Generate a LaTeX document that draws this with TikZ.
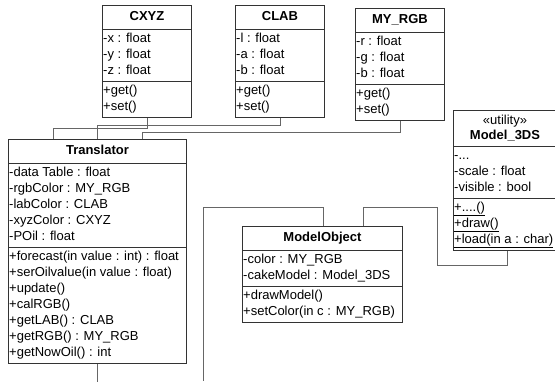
\documentclass[tikz,border=0pt]{standalone}
\usepackage{fontspec}
\setmainfont{Liberation Sans}
\usepackage{tikz}
\usetikzlibrary{positioning, calc}

\tikzset{
  classbox/.style={draw=black!80, line width=0.9pt, inner sep=0pt, anchor=north west},
  ctitle/.style={font=\bfseries\fontsize{13}{16}\selectfont, inner sep=0pt, text height=10pt, text depth=3pt},
  member/.style={font=\fontsize{13}{16}\selectfont, anchor=west, inner sep=1pt, text height=10pt, text depth=3pt},
  divider/.style={draw=black!80, line width=0.9pt},
  link/.style={draw=black!60, line width=0.8pt},
}

\begin{document}
\begin{tikzpicture}[x=1pt, y=-1pt]
  \useasboundingbox (0,0) rectangle (555,381);

  % Colour classes
  \foreach \nm/\x/\y/\head/\fa/\fb/\fc in {cxyz/102/5/CXYZ/x/y/z, clab/235/5/CLAB/l/a/b, rgb/355/8/MY\_RGB/r/g/b} {
    \node[classbox, minimum width=89pt, minimum height=112pt] (\nm) at (\x,\y) {};
    \node[ctitle] (\nm-title) at ($(\nm.north)+(0,12)$) {\head};
    \draw[divider] ($(\nm.north west)+(0,24)$) -- ++(89,0);
    \draw[divider] ($(\nm.north west)+(0,76)$) -- ++(89,0);
    \node[member] (\nm-a) at ($(\nm.north west)+(0,34)$) {-\fa{} : float};
    \node[member] (\nm-b) at ($(\nm.north west)+(0,50)$) {-\fb{} : float};
    \node[member] (\nm-c) at ($(\nm.north west)+(0,66)$) {-\fc{} : float};
    \node[member] (\nm-get) at ($(\nm.north west)+(0,86)$) {+get()};
    \node[member] (\nm-set) at ($(\nm.north west)+(0,102)$) {+set()};
  }

  % Translator
  \node[classbox, minimum width=178pt, minimum height=224pt] (trans) at (8,139) {};
  \node[ctitle] (trans-title) at ($(trans.north)+(0,12)$) {Translator};
  \draw[divider] ($(trans.north west)+(0,24)$) -- ++(178,0);
  \draw[divider] ($(trans.north west)+(0,108)$) -- ++(178,0);
  \foreach \i/\txt in {0/{-data Table : float}, 1/{-rgbColor : MY\_RGB}, 2/{-labColor : CLAB},
                       3/{-xyzColor : CXYZ}, 4/{-POil : float}}
    \node[member] (trans-a\i) at ($(trans.north west)+(0,34+16*\i)$) {\txt};
  \foreach \i/\txt in {0/{+forecast(in value : int) : float}, 1/{+serOilvalue(in value : float)},
                       2/{+update()}, 3/{+calRGB()}, 4/{+getLAB() : CLAB}, 5/{+getRGB() : MY\_RGB},
                       6/{+getNowOil() : int}}
    \node[member] (trans-m\i) at ($(trans.north west)+(0,118+16*\i)$) {\txt};

  % ModelObject
  \node[classbox, minimum width=160pt, minimum height=96pt] (mobj) at (242,226) {};
  \node[ctitle] (mobj-title) at ($(mobj.north)+(0,12)$) {ModelObject};
  \draw[divider] ($(mobj.north west)+(0,24)$) -- ++(160,0);
  \draw[divider] ($(mobj.north west)+(0,60)$) -- ++(160,0);
  \node[member] (mobj-a0) at ($(mobj.north west)+(0,34)$) {-color : MY\_RGB};
  \node[member] (mobj-a1) at ($(mobj.north west)+(0,50)$) {-cakeModel : Model\_3DS};
  \node[member] (mobj-m0) at ($(mobj.north west)+(0,70)$) {+drawModel()};
  \node[member] (mobj-m1) at ($(mobj.north west)+(0,86)$) {+setColor(in c : MY\_RGB)};

  % Model_3DS (utility), right side runs off the page
  \node[classbox, draw=none, minimum width=102pt, minimum height=140pt] (m3ds) at (453,110) {};
  \draw[divider] (m3ds.north east) -- (m3ds.north west) -- (m3ds.south west) -- (m3ds.south east);
  \node[ctitle, font=\fontsize{13}{16}\selectfont] (m3ds-stereo) at ($(m3ds.north west)+(52,11)$) {«utility»};
  \node[ctitle] (m3ds-title) at ($(m3ds.north west)+(52,26)$) {Model\_3DS};
  \draw[divider] ($(m3ds.north west)+(0,36)$) -- ++(102,0);
  \draw[divider] ($(m3ds.north west)+(0,88)$) -- ++(102,0);
  \foreach \i/\txt in {0/{-...}, 1/{-scale : float}, 2/{-visible : bool}}
    \node[member] (m3ds-a\i) at ($(m3ds.north west)+(0,46+16*\i)$) {\txt};
  \foreach \i/\txt in {0/{+....()}, 1/{+draw()}, 2/{+load(in a : char)}}
    \node[member] (m3ds-m\i) at ($(m3ds.north west)+(0,98+16*\i)$) {\underline{\txt}};

  % Associations
  \draw[link] (cxyz.south) -- ++(0,10) -| ($(trans.north west)+(45,0)$);
  \draw[link] (clab.south) -- ++(0,7) -| ($(trans.north west)+(89,0)$);
  \draw[link] (rgb.south) -- ++(0,11) -| ($(trans.north west)+(134,0)$);
  \draw[link] ($(m3ds.south west)+(54,0)$) -- ++(0,14) -- ++(-70,0)
    |- ($(mobj.north west)+(121,-19)$) -- ($(mobj.north west)+(121,0)$);
  \coordinate (trans-out) at ($(trans.south west)+(89,18)$);
  \draw[link] ($(trans.south west)+(89,0)$) -- (trans-out);
  \coordinate (mobj-out) at (203,381);
  \draw[link] ($(mobj.north west)+(81,0)$) |- (203,207) -- (mobj-out);
\end{tikzpicture}
\end{document}
